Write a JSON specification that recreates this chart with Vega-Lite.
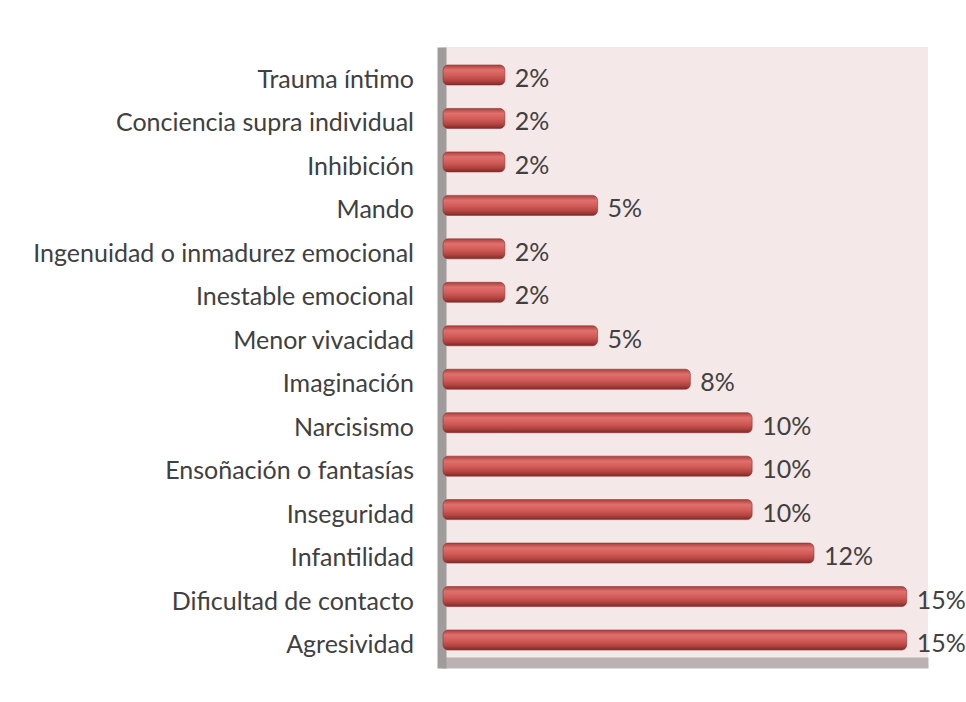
{
  "$schema": "https://vega.github.io/schema/vega-lite/v6.json",
  "autosize": {"type": "none"},
  "width": 486.5,
  "height": 621,
  "padding": {"left": 441.5, "top": 47, "right": 38, "bottom": 34},
  "background": "white",
  "config": {
    "view": {"fill": "#f5e8e8", "stroke": null},
    "font": "Lato"
  },
  "data": {
    "values": [
      {"cat": "Trauma íntimo", "val": 0.02},
      {"cat": "Conciencia supra individual", "val": 0.02},
      {"cat": "Inhibición", "val": 0.02},
      {"cat": "Mando", "val": 0.05},
      {"cat": "Ingenuidad o inmadurez emocional", "val": 0.02},
      {"cat": "Inestable emocional", "val": 0.02},
      {"cat": "Menor vivacidad", "val": 0.05},
      {"cat": "Imaginación", "val": 0.08},
      {"cat": "Narcisismo", "val": 0.10},
      {"cat": "Ensoñación o fantasías", "val": 0.10},
      {"cat": "Inseguridad", "val": 0.10},
      {"cat": "Infantilidad", "val": 0.12},
      {"cat": "Dificultad de contacto", "val": 0.15},
      {"cat": "Agresividad", "val": 0.15}
    ]
  },
  "encoding": {
    "y": {
      "field": "cat",
      "type": "nominal",
      "sort": null,
      "scale": {"paddingInner": 0.54, "paddingOuter": 0.414},
      "axis": {
        "title": null,
        "ticks": false,
        "tickSize": 0,
        "labelPadding": 28,
        "labelLimit": 0,
        "labelOffset": 5,
        "labelFontSize": 25,
        "labelColor": "#404040",
        "domainColor": "#a09c9c",
        "domainWidth": 9,
        "grid": false
      }
    },
    "x": {
      "field": "val",
      "type": "quantitative",
      "scale": {"domain": [-0.0005, 0.1569], "nice": false, "zero": false},
      "axis": {
        "title": null,
        "labels": false,
        "ticks": false,
        "tickSize": 0,
        "grid": false,
        "domainColor": "#bab2b2",
        "domainWidth": 11,
        "offset": -5.5
      }
    }
  },
  "layer": [
    {
      "mark": {
        "type": "bar",
        "cornerRadius": 5,
        "stroke": "#8a3230",
        "strokeWidth": 0.6,
        "fill": {
          "gradient": "linear",
          "x1": 0, "y1": 0, "x2": 0, "y2": 1,
          "stops": [
            {"offset": 0, "color": "#a8403d"},
            {"offset": 0.25, "color": "#e0706c"},
            {"offset": 0.55, "color": "#d05a56"},
            {"offset": 0.8, "color": "#b1433f"},
            {"offset": 1, "color": "#7c2a28"}
          ]
        }
      },
      "encoding": {
        "x2": {"datum": 0}
      }
    },
    {
      "mark": {
        "type": "text",
        "align": "left",
        "baseline": "middle",
        "dx": 10,
        "dy": 4,
        "fontSize": 25,
        "color": "#404040"
      },
      "encoding": {
        "text": {"field": "val", "type": "quantitative", "format": ".0%"}
      }
    }
  ]
}
